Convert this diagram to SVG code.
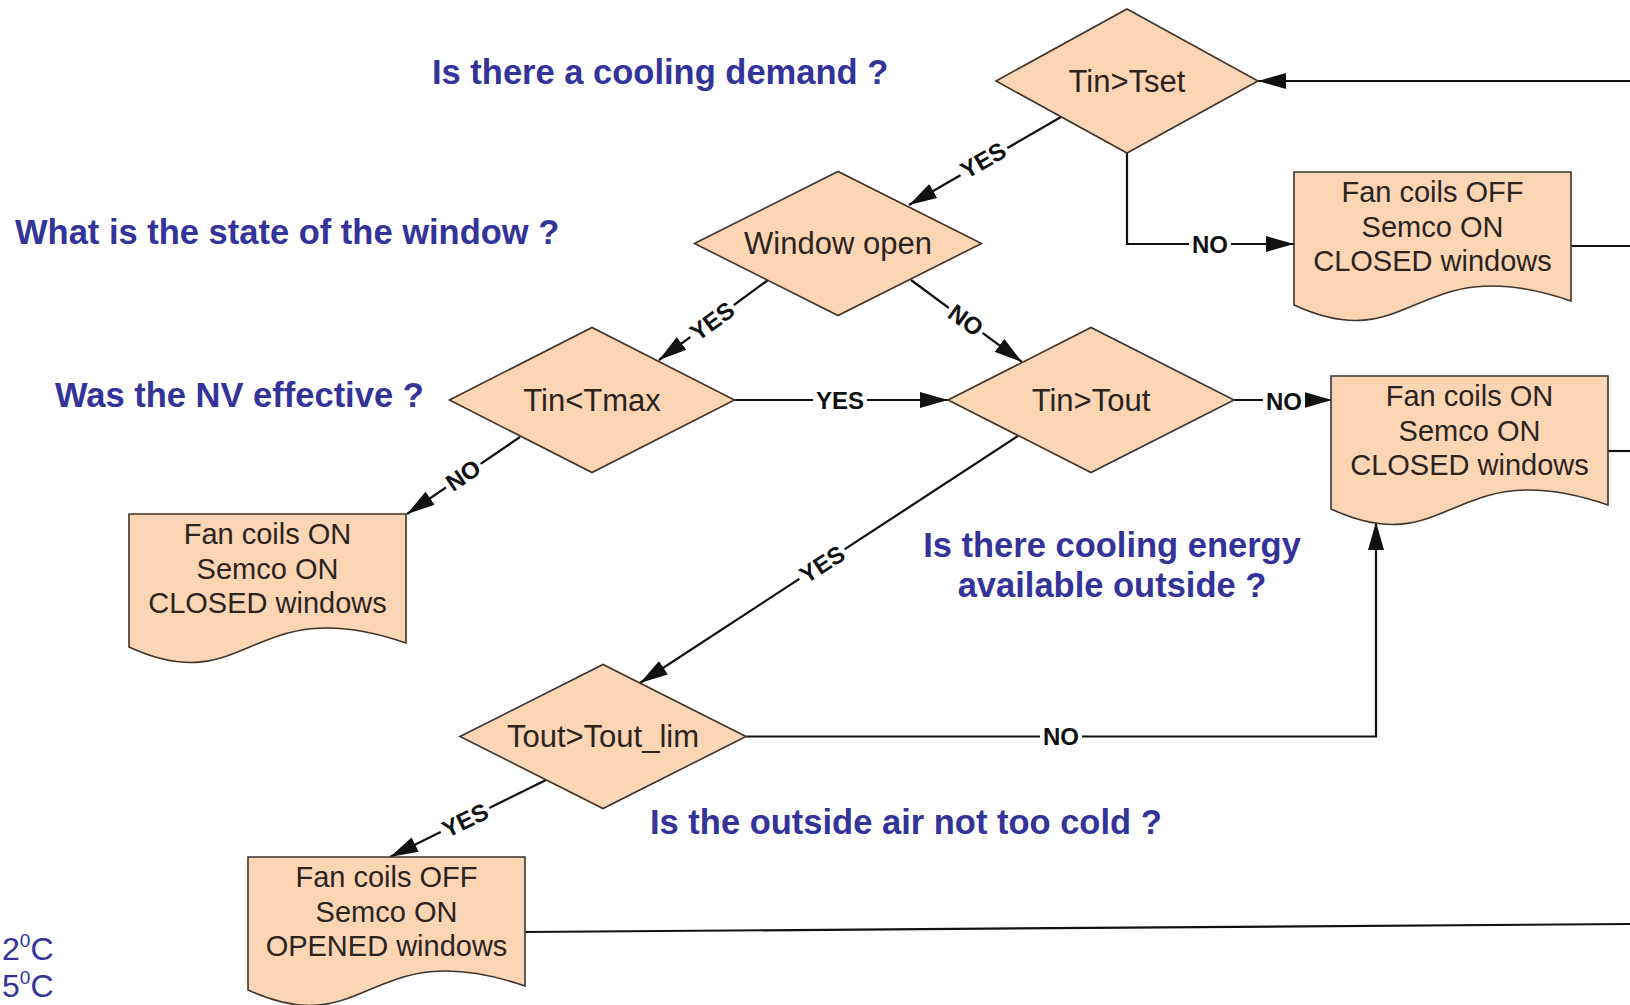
<svg xmlns="http://www.w3.org/2000/svg" xmlns:xlink="http://www.w3.org/1999/xlink" width="1630" height="1005" viewBox="0 0 1630 1005">
  <style>
    .shape { fill: #fcd5b5; stroke: #3d342c; stroke-width: 1.6; }
    .ntext { font-family: "Liberation Sans", Arial, sans-serif; font-size: 31px; fill: #2b241e; text-anchor: middle; }
    .btext { font-family: "Liberation Sans", Arial, sans-serif; font-size: 29px; fill: #2b241e; text-anchor: middle; }
    .conn { fill: none; stroke: #111; stroke-width: 2.2; }
    .lbl { font-family: "Liberation Sans", Arial, sans-serif; font-size: 24px; font-weight: bold; fill: #111; text-anchor: middle; }
    .lblbg { fill: #fff; }
    .q { font-family: "Liberation Sans", Arial, sans-serif; font-size: 34.5px; font-weight: bold; fill: #333399; }
    .note { font-family: "Liberation Sans", Arial, sans-serif; font-size: 32px; fill: #333399; }
  </style>
  <defs>
    <!-- document (wavy-bottom) outline, 277 wide -->
    <path id="doc" d="M0,0 H277 V129 C120,75 120,188 0,133 Z"/>
    <marker id="arrow" markerUnits="userSpaceOnUse" markerWidth="28" markerHeight="16" refX="28" refY="8" orient="auto">
      <path d="M0,0 L28,8 L0,16 Z" fill="#111"/>
    </marker>
    <rect id="bg-yes" class="lblbg" x="-27" y="-11" width="54" height="22"/>
    <rect id="bg-no" class="lblbg" x="-21" y="-11" width="42" height="22"/>
  </defs>

  <rect width="1630" height="1005" fill="#fff"/>

  <!-- questions -->
  <text class="q" x="432" y="84">Is there a cooling demand ?</text>
  <text class="q" x="15" y="244">What is the state of the window ?</text>
  <text class="q" x="55" y="407">Was the NV effective ?</text>
  <text class="q" x="1112" y="557" text-anchor="middle">Is there cooling energy</text>
  <text class="q" x="1112" y="597" text-anchor="middle">available outside ?</text>
  <text class="q" x="650" y="834">Is the outside air not too cold ?</text>

  <!-- temperature notes -->
  <text class="note" x="2" y="960">2<tspan font-size="19" dy="-13">0</tspan><tspan dy="13">C</tspan></text>
  <text class="note" x="2" y="997">5<tspan font-size="19" dy="-13">0</tspan><tspan dy="13">C</tspan></text>

  <!-- connectors -->
  <g id="connectors">
    <path class="conn" d="M1630,81 H1258" marker-end="url(#arrow)"/>
    <path class="conn" d="M1061,117 L909,205" marker-end="url(#arrow)"/>
    <path class="conn" d="M1127,153 V244 H1294" marker-end="url(#arrow)"/>
    <path class="conn" d="M1571,246 H1630"/>
    <path class="conn" d="M768,280 L659,360" marker-end="url(#arrow)"/>
    <path class="conn" d="M911,280 L1022,362" marker-end="url(#arrow)"/>
    <path class="conn" d="M734.5,400 H948" marker-end="url(#arrow)"/>
    <path class="conn" d="M520,437 L407,514" marker-end="url(#arrow)"/>
    <path class="conn" d="M1234,400 H1332" marker-end="url(#arrow)"/>
    <path class="conn" d="M1018,436 L640,683" marker-end="url(#arrow)"/>
    <path class="conn" d="M746,736.5 H1376 V522" marker-end="url(#arrow)"/>
    <path class="conn" d="M546,780 L390,857" marker-end="url(#arrow)"/>
    <path class="conn" d="M525,932 L1630,924"/>
    <path class="conn" d="M1607,451 H1630"/>

    <g transform="translate(983,160) rotate(-30)"><use xlink:href="#bg-yes"/><text class="lbl" dy="0.36em">YES</text></g>
    <g transform="translate(1210,244)"><use xlink:href="#bg-no"/><text class="lbl" dy="0.36em">NO</text></g>
    <g transform="translate(712,321) rotate(-36)"><use xlink:href="#bg-yes"/><text class="lbl" dy="0.36em">YES</text></g>
    <g transform="translate(966,320) rotate(36)"><use xlink:href="#bg-no"/><text class="lbl" dy="0.36em">NO</text></g>
    <g transform="translate(840,400)"><use xlink:href="#bg-yes"/><text class="lbl" dy="0.36em">YES</text></g>
    <g transform="translate(463,475) rotate(-34)"><use xlink:href="#bg-no"/><text class="lbl" dy="0.36em">NO</text></g>
    <g transform="translate(1284,401)"><use xlink:href="#bg-no"/><text class="lbl" dy="0.36em">NO</text></g>
    <g transform="translate(822,564) rotate(-33)"><use xlink:href="#bg-yes"/><text class="lbl" dy="0.36em">YES</text></g>
    <g transform="translate(1061,736.5)"><use xlink:href="#bg-no"/><text class="lbl" dy="0.36em">NO</text></g>
    <g transform="translate(465,820) rotate(-26)"><use xlink:href="#bg-yes"/><text class="lbl" dy="0.36em">YES</text></g>
  </g>

  <!-- decisions -->
  <g id="d-tin-tset">
    <polygon class="shape" points="996,81 1127,9 1258,81 1127,153"/>
    <text class="ntext" x="1127" y="92">Tin&gt;Tset</text>
  </g>
  <g id="d-window-open">
    <polygon class="shape" points="694.5,243.5 838,171.5 981.5,243.5 838,315.5"/>
    <text class="ntext" x="838" y="254">Window open</text>
  </g>
  <g id="d-tin-tmax">
    <polygon class="shape" points="449.5,400 592,327.5 734.5,400 592,472.5"/>
    <text class="ntext" x="592" y="411">Tin&lt;Tmax</text>
  </g>
  <g id="d-tin-tout">
    <polygon class="shape" points="948,400 1091,327.5 1234,400 1091,472.5"/>
    <text class="ntext" x="1091" y="411">Tin&gt;Tout</text>
  </g>
  <g id="d-tout-lim">
    <polygon class="shape" points="460,736.5 603,664.5 746,736.5 603,808.5"/>
    <text class="ntext" x="603" y="747">Tout&gt;Tout_lim</text>
  </g>

  <!-- actions -->
  <g id="a-off-closed">
    <use xlink:href="#doc" class="shape" x="1294" y="172"/>
    <text class="btext" x="1432.5" y="202">Fan coils OFF</text>
    <text class="btext" x="1432.5" y="236.5">Semco ON</text>
    <text class="btext" x="1432.5" y="271">CLOSED windows</text>
  </g>
  <g id="a-on-closed-right">
    <use xlink:href="#doc" class="shape" x="1331" y="376"/>
    <text class="btext" x="1469.5" y="406">Fan coils ON</text>
    <text class="btext" x="1469.5" y="440.5">Semco ON</text>
    <text class="btext" x="1469.5" y="475">CLOSED windows</text>
  </g>
  <g id="a-on-closed-left">
    <use xlink:href="#doc" class="shape" x="129" y="514"/>
    <text class="btext" x="267.5" y="544">Fan coils ON</text>
    <text class="btext" x="267.5" y="578.5">Semco ON</text>
    <text class="btext" x="267.5" y="613">CLOSED windows</text>
  </g>
  <g id="a-off-opened">
    <use xlink:href="#doc" class="shape" x="248" y="857"/>
    <text class="btext" x="386.5" y="887">Fan coils OFF</text>
    <text class="btext" x="386.5" y="921.5">Semco ON</text>
    <text class="btext" x="386.5" y="956">OPENED windows</text>
  </g>
</svg>
